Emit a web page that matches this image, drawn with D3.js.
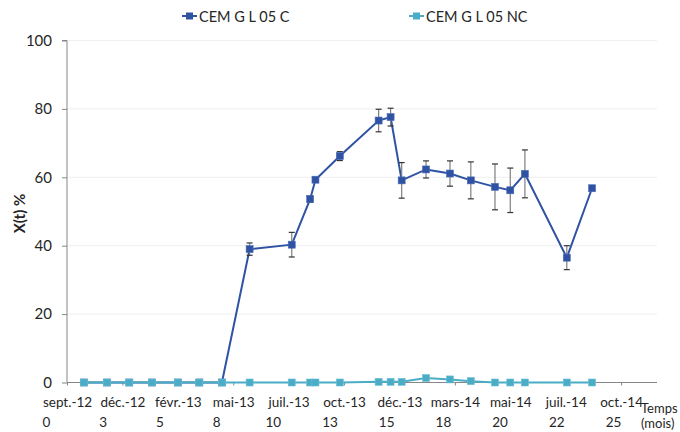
<!DOCTYPE html>
<html>
<head>
<meta charset="utf-8">
<script src="https://cdn.jsdelivr.net/npm/d3@7"></script>
<style>
  html, body { margin: 0; padding: 0; background: #fff; }
  svg { display: block; font-family: Lato, "Open Sans", sans-serif; }
</style>
</head>
<body>
<svg id="chart" width="680" height="432"></svg>
<script>
// Sampling times (months since start)
const months = [0.77, 1.81, 2.81, 3.84, 5.00, 5.97, 6.99, 8.24, 10.14, 10.97, 11.21, 12.31,
                14.06, 14.60, 15.10, 16.20, 17.28, 18.22, 19.31, 20.00, 20.66, 22.55, 23.69];

// X(t) % for the carbonated series, with its standard deviation
const seriesC = [0, 0, 0, 0, 0, 0, 0, 39.0, 40.3, 53.6, 59.3, 66.2,
                 76.6, 77.6, 59.1, 62.3, 61.1, 59.1, 57.2, 56.2, 61.0, 36.5, 56.8];
const errorC = [null, null, null, null, null, null, null, 1.8, 3.6, 0.9, 0.5, 1.3,
                3.3, 2.6, 5.2, 2.5, 3.7, 5.4, 6.7, 6.5, 7.0, 3.5, null];

// X(t) % for the non-carbonated series
const seriesNC = [0, 0, 0, 0, 0, 0, 0, 0, 0, 0, 0, 0,
                  0.2, 0.2, 0.2, 1.3, 0.9, 0.4, 0, 0, 0, 0, 0];

const seriesNames = ["CEM G L 05 C", "CEM G L 05 NC"];

// Axis tick labels
const dateLabels = ["sept.-12", "déc.-12", "févr.-13", "mai-13", "juil.-13", "oct.-13",
                    "déc.-13", "mars-14", "mai-14", "juil.-14", "oct.-14"];
const monthLabels = ["0", "3", "5", "8", "10", "13", "15", "18", "20", "22", "25"];
const yTicks = [0, 20, 40, 60, 80, 100];

const colorC = "#2f52a3";
const colorNC = "#4bacc6";

const svg = d3.select("#chart");

const x = d3.scaleLinear().domain([0, 26.62]).range([67, 657]);
const y = d3.scaleLinear().domain([0, 100]).range([382.5, 40.5]);
const xTicks = d3.range(0, 25.01, 2.5);
// Second label row (months) is spaced slightly wider than the date row
const xMonthRow = d3.scaleLinear().domain([0, 25]).range([46.5, 613.5]);

// Horizontal gridlines
svg.append("g")
  .selectAll("line")
  .data(yTicks.filter(d => d > 0))
  .join("line")
  .attr("x1", x(0)).attr("x2", 657)
  .attr("y1", d => y(d)).attr("y2", d => y(d))
  .attr("stroke", "#efefef").attr("stroke-width", 1);

// Y axis
const yAxis = svg.append("g")
  .attr("transform", `translate(${x(0)},0)`)
  .call(d3.axisLeft(y).tickValues(yTicks).tickSize(5).tickPadding(10));
yAxis.select(".domain").attr("stroke", "#868686").attr("d", `M-5,${y(100)}H0V${y(0)}`);
yAxis.selectAll(".tick line").attr("stroke", "#868686");
yAxis.selectAll(".tick text")
  .attr("fill", "#262626").attr("font-size", 15).attr("font-family", "Lato, sans-serif");

// X axis
const xAxis = svg.append("g")
  .attr("transform", `translate(0,${y(0)})`)
  .call(d3.axisBottom(x).tickValues(xTicks).tickSize(3).tickFormat((d, i) => dateLabels[i]).tickPadding(12));
xAxis.select(".domain").attr("stroke", "#868686").attr("d", `M${x(0)},0H657`);
xAxis.selectAll(".tick line").attr("stroke", "#868686");
xAxis.selectAll(".tick text")
  .attr("fill", "#262626").attr("font-size", 13.5).attr("font-family", "Lato, sans-serif");

// Second row: elapsed months
svg.append("g")
  .selectAll("text")
  .data(monthLabels)
  .join("text")
  .attr("x", (d, i) => xMonthRow(i * 2.5))
  .attr("y", 427)
  .attr("text-anchor", "middle")
  .attr("font-size", 13.5)
  .attr("fill", "#262626")
  .text(d => d);

// Axis titles
svg.append("text")
  .attr("x", 641).attr("y", 413)
  .attr("font-size", 13).attr("fill", "#262626")
  .text("Temps");
svg.append("text")
  .attr("x", 641).attr("y", 428)
  .attr("font-size", 13).attr("fill", "#262626")
  .text("(mois)");
svg.append("text")
  .attr("transform", `translate(25,${(y(0) + y(100)) / 2 + 2}) rotate(-90)`)
  .attr("text-anchor", "middle")
  .attr("font-size", 15).attr("font-weight", "bold").attr("fill", "#262626")
  .text("X(t) %");

const line = d3.line().x(d => x(d[0])).y(d => y(d[1]));
const ptsC = months.map((m, i) => [m, seriesC[i], errorC[i]]);
const ptsNC = months.map((m, i) => [m, seriesNC[i]]);

// Carbonated series: line, error bars, markers
svg.append("path")
  .datum(ptsC)
  .attr("d", line)
  .attr("fill", "none").attr("stroke", colorC).attr("stroke-width", 2);

const eb = svg.append("g")
  .selectAll("g")
  .data(ptsC.filter(d => d[2] != null))
  .join("g");
eb.append("line")
  .attr("x1", d => x(d[0])).attr("x2", d => x(d[0]))
  .attr("y1", d => y(d[1] + d[2])).attr("y2", d => y(d[1] - d[2]))
  .attr("stroke", "#7f7f7f").attr("stroke-width", 1.2);
eb.selectAll("line.cap")
  .data(d => [[d[0], d[1] + d[2]], [d[0], d[1] - d[2]]])
  .join("line")
  .attr("class", "cap")
  .attr("x1", d => x(d[0]) - 3).attr("x2", d => x(d[0]) + 3)
  .attr("y1", d => y(d[1])).attr("y2", d => y(d[1]))
  .attr("stroke", "#333").attr("stroke-width", 1.2);

svg.append("g")
  .selectAll("rect")
  .data(ptsC)
  .join("rect")
  .attr("x", d => x(d[0]) - 3.5).attr("y", d => y(d[1]) - 3.5)
  .attr("width", 7).attr("height", 7)
  .attr("fill", colorC).attr("stroke", "#4a6cb8").attr("stroke-width", 0.6);

// Non-carbonated series
svg.append("path")
  .datum(ptsNC)
  .attr("d", line)
  .attr("fill", "none").attr("stroke", colorNC).attr("stroke-width", 2);
svg.append("g")
  .selectAll("rect")
  .data(ptsNC)
  .join("rect")
  .attr("x", d => x(d[0]) - 3.5).attr("y", d => y(d[1]) - 3.5)
  .attr("width", 7).attr("height", 7)
  .attr("fill", colorNC).attr("stroke", "#6cc0d6").attr("stroke-width", 0.6);

// Legend
const legend = svg.append("g");
const legendItems = [
  { name: seriesNames[0], color: colorC, x: 182 },
  { name: seriesNames[1], color: colorNC, x: 409 }
];
const li = legend.selectAll("g").data(legendItems).join("g")
  .attr("transform", d => `translate(${d.x},16)`);
li.append("line").attr("x1", 0).attr("x2", 15).attr("y1", 0).attr("y2", 0)
  .attr("stroke", d => d.color).attr("stroke-width", 2);
li.append("rect").attr("x", 4).attr("y", -3.5).attr("width", 7).attr("height", 7)
  .attr("fill", d => d.color);
li.append("text").attr("x", 17).attr("y", 5.5)
  .attr("font-size", 14.5).attr("fill", "#262626")
  .text(d => d.name);
</script>
</body>
</html>
